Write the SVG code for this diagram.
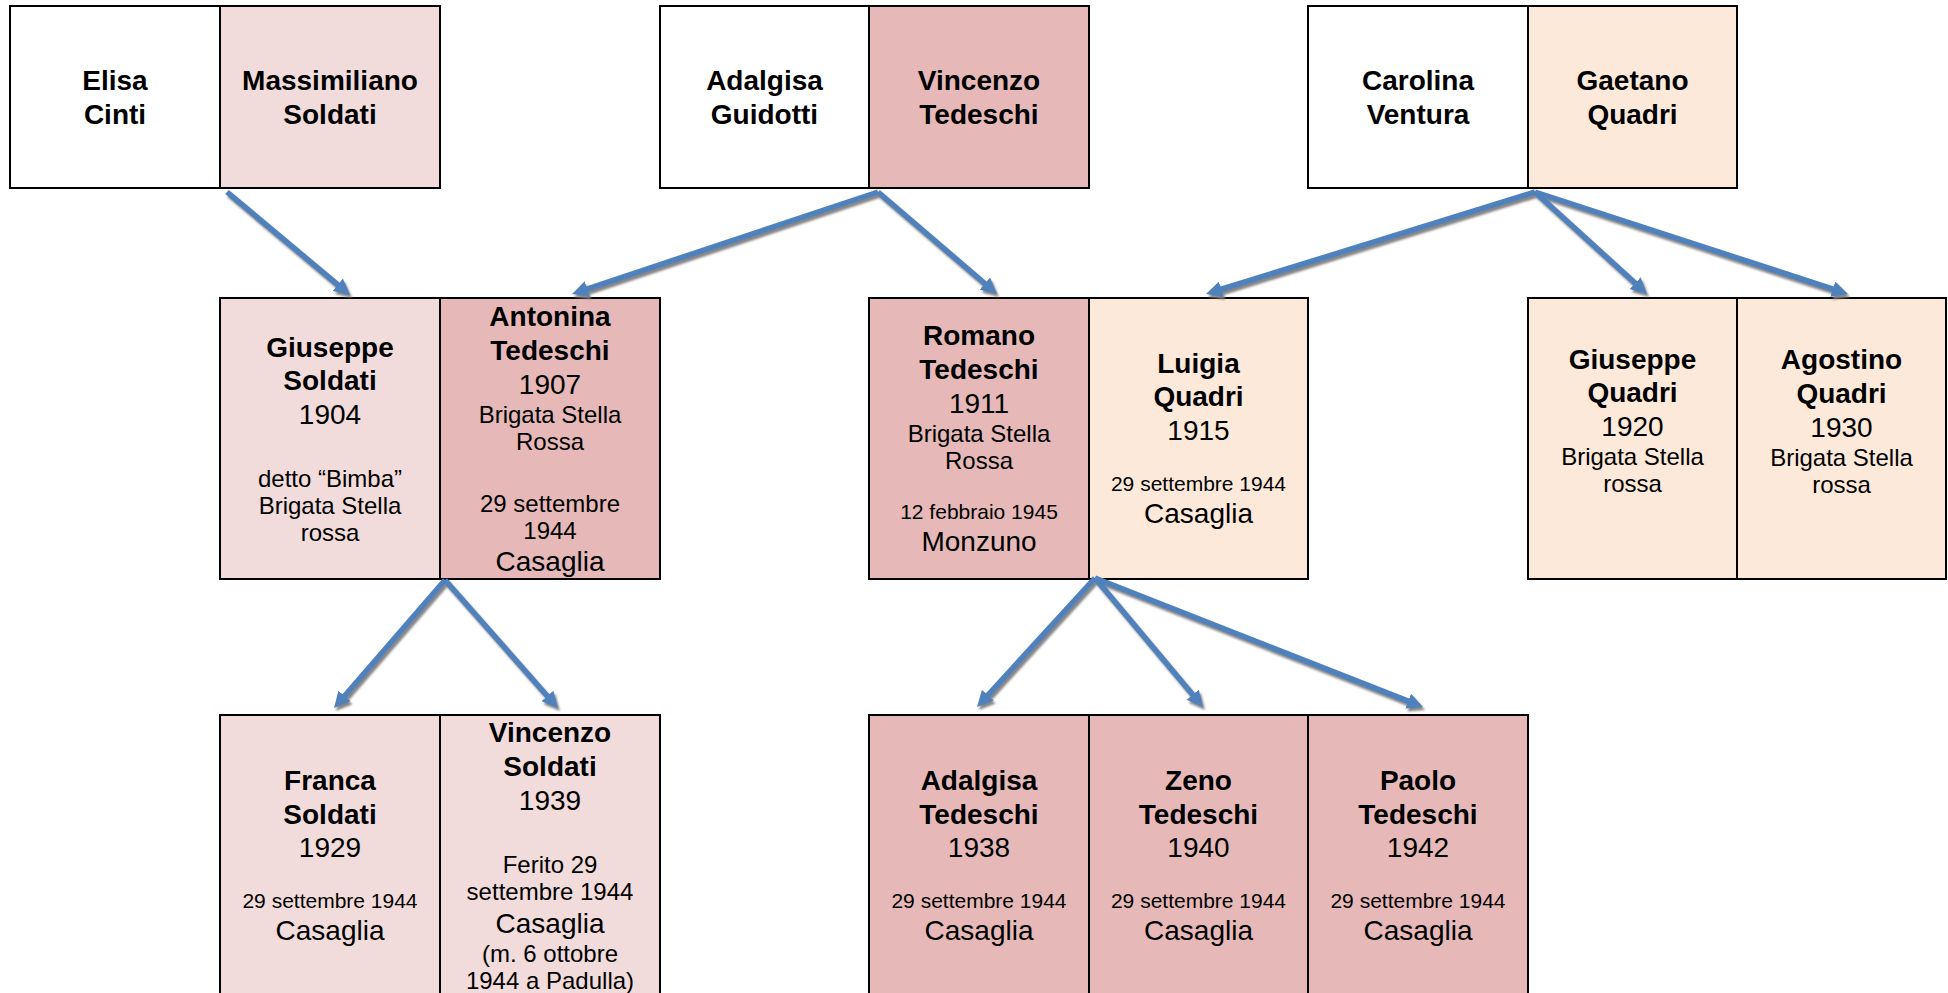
<svg xmlns="http://www.w3.org/2000/svg" width="1948" height="993" viewBox="0 0 1948 993">
<style>
.box{stroke:#000;stroke-width:2}
.w{fill:#FFFFFF}
.p1{fill:#F2DCDB}
.p2{fill:#E6B9B8}
.o{fill:#FDE9D9}
text{font-family:"Liberation Sans",Arial,sans-serif;fill:#000;text-anchor:middle}
.n{font-size:28px;font-weight:bold}
.y{font-size:28px}
.s{font-size:24px}
.d{font-size:21px}
.c{stroke:#4F81BD;stroke-width:5.5;fill:none;marker-end:url(#ah)}
</style>
<defs>
<marker id="ah" viewBox="0 0 10 10" refX="4.75" refY="5" markerWidth="16" markerHeight="16" markerUnits="userSpaceOnUse" orient="auto">
<path d="M0,0 L10,5 L0,10 z" fill="#4F81BD"/>
</marker>
<filter id="sh" x="-10%" y="-10%" width="130%" height="130%">
<feDropShadow dx="2" dy="3" stdDeviation="0.8" flood-color="#7F7F7F" flood-opacity="0.95"/>
</filter>
</defs>
<rect width="1948" height="993" fill="#FFFFFF"/>

<g id="elisa-cinti"><rect class="box w" x="10" y="6" width="210" height="182"/><text class="n" x="115" y="90">Elisa</text><text class="n" x="115" y="123.5">Cinti</text></g>
<g id="massimiliano-soldati"><rect class="box p1" x="220" y="6" width="220" height="182"/><text class="n" x="330" y="90">Massimiliano</text><text class="n" x="330" y="123.5">Soldati</text></g>
<g id="adalgisa-guidotti"><rect class="box w" x="660" y="6" width="209" height="182"/><text class="n" x="764.5" y="90">Adalgisa</text><text class="n" x="764.5" y="123.5">Guidotti</text></g>
<g id="vincenzo-tedeschi"><rect class="box p2" x="869" y="6" width="220" height="182"/><text class="n" x="979" y="90">Vincenzo</text><text class="n" x="979" y="123.5">Tedeschi</text></g>
<g id="carolina-ventura"><rect class="box w" x="1308" y="6" width="220" height="182"/><text class="n" x="1418" y="90">Carolina</text><text class="n" x="1418" y="123.5">Ventura</text></g>
<g id="gaetano-quadri"><rect class="box o" x="1528" y="6" width="209" height="182"/><text class="n" x="1632.5" y="90">Gaetano</text><text class="n" x="1632.5" y="123.5">Quadri</text></g>

<g id="giuseppe-soldati"><rect class="box p1" x="220" y="298" width="220" height="281"/><text class="n" x="330" y="356.5">Giuseppe</text><text class="n" x="330" y="390">Soldati</text><text class="y" x="330" y="423.5">1904</text><text class="s" x="330" y="486.5">detto “Bimba”</text><text class="s" x="330" y="514">Brigata Stella</text><text class="s" x="330" y="541">rossa</text></g>
<g id="antonina-tedeschi"><rect class="box p2" x="440" y="298" width="220" height="281"/><text class="n" x="550" y="325.5">Antonina</text><text class="n" x="550" y="359.5">Tedeschi</text><text class="y" x="550" y="393.5">1907</text><text class="s" x="550" y="422.5">Brigata Stella</text><text class="s" x="550" y="449.5">Rossa</text><text class="s" x="550" y="511.5">29 settembre</text><text class="s" x="550" y="538.5">1944</text><text class="y" x="550" y="571">Casaglia</text></g>
<g id="romano-tedeschi"><rect class="box p2" x="869" y="298" width="220" height="281"/><text class="n" x="979" y="345">Romano</text><text class="n" x="979" y="379">Tedeschi</text><text class="y" x="979" y="413">1911</text><text class="s" x="979" y="442">Brigata Stella</text><text class="s" x="979" y="469">Rossa</text><text class="d" x="979" y="519">12 febbraio 1945</text><text class="y" x="979" y="550.5">Monzuno</text></g>
<g id="luigia-quadri"><rect class="box o" x="1089" y="298" width="219" height="281"/><text class="n" x="1198.5" y="373">Luigia</text><text class="n" x="1198.5" y="406">Quadri</text><text class="y" x="1198.5" y="440">1915</text><text class="d" x="1198.5" y="491">29 settembre 1944</text><text class="y" x="1198.5" y="523">Casaglia</text></g>
<g id="giuseppe-quadri"><rect class="box o" x="1528" y="298" width="209" height="281"/><text class="n" x="1632.5" y="368.5">Giuseppe</text><text class="n" x="1632.5" y="402">Quadri</text><text class="y" x="1632.5" y="436">1920</text><text class="s" x="1632.5" y="465">Brigata Stella</text><text class="s" x="1632.5" y="492">rossa</text></g>
<g id="agostino-quadri"><rect class="box o" x="1737" y="298" width="209" height="281"/><text class="n" x="1841.5" y="369">Agostino</text><text class="n" x="1841.5" y="402.5">Quadri</text><text class="y" x="1841.5" y="436.5">1930</text><text class="s" x="1841.5" y="466">Brigata Stella</text><text class="s" x="1841.5" y="492.5">rossa</text></g>

<g id="franca-soldati"><rect class="box p1" x="220" y="715" width="220" height="290"/><text class="n" x="330" y="790">Franca</text><text class="n" x="330" y="823.5">Soldati</text><text class="y" x="330" y="856.5">1929</text><text class="d" x="330" y="908">29 settembre 1944</text><text class="y" x="330" y="940">Casaglia</text></g>
<g id="vincenzo-soldati"><rect class="box p1" x="440" y="715" width="220" height="290"/><text class="n" x="550" y="741.5">Vincenzo</text><text class="n" x="550" y="776">Soldati</text><text class="y" x="550" y="810">1939</text><text class="s" x="550" y="873">Ferito 29</text><text class="s" x="550" y="900">settembre 1944</text><text class="y" x="550" y="932.5">Casaglia</text><text class="s" x="550" y="961.5">(m. 6 ottobre</text><text class="s" x="550" y="988.5">1944 a Padulla)</text></g>
<g id="adalgisa-tedeschi"><rect class="box p2" x="869" y="715" width="220" height="290"/><text class="n" x="979" y="790">Adalgisa</text><text class="n" x="979" y="823.5">Tedeschi</text><text class="y" x="979" y="856.5">1938</text><text class="d" x="979" y="908">29 settembre 1944</text><text class="y" x="979" y="940">Casaglia</text></g>
<g id="zeno-tedeschi"><rect class="box p2" x="1089" y="715" width="219" height="290"/><text class="n" x="1198.5" y="790">Zeno</text><text class="n" x="1198.5" y="823.5">Tedeschi</text><text class="y" x="1198.5" y="856.5">1940</text><text class="d" x="1198.5" y="908">29 settembre 1944</text><text class="y" x="1198.5" y="940">Casaglia</text></g>
<g id="paolo-tedeschi"><rect class="box p2" x="1308" y="715" width="220" height="290"/><text class="n" x="1418" y="790">Paolo</text><text class="n" x="1418" y="823.5">Tedeschi</text><text class="y" x="1418" y="856.5">1942</text><text class="d" x="1418" y="908">29 settembre 1944</text><text class="y" x="1418" y="940">Casaglia</text></g>

<g id="connectors" filter="url(#sh)">
<line class="c" x1="227" y1="192" x2="343.6" y2="289.6"/>
<line class="c" x1="878" y1="192" x2="580" y2="291.3"/>
<line class="c" x1="878" y1="192" x2="990.6" y2="288.5"/>
<line class="c" x1="1535" y1="192" x2="1214" y2="291.5"/>
<line class="c" x1="1535" y1="192" x2="1640.8" y2="288.3"/>
<line class="c" x1="1535" y1="192" x2="1840" y2="291.4"/>
<line class="c" x1="445" y1="580" x2="339.5" y2="701.7"/>
<line class="c" x1="445" y1="580" x2="552.4" y2="701.7"/>
<line class="c" x1="1095" y1="578" x2="982.7" y2="700.8"/>
<line class="c" x1="1095" y1="578" x2="1197.6" y2="700.6"/>
<line class="c" x1="1095" y1="578" x2="1415.2" y2="703.9"/>
</g>
</svg>
